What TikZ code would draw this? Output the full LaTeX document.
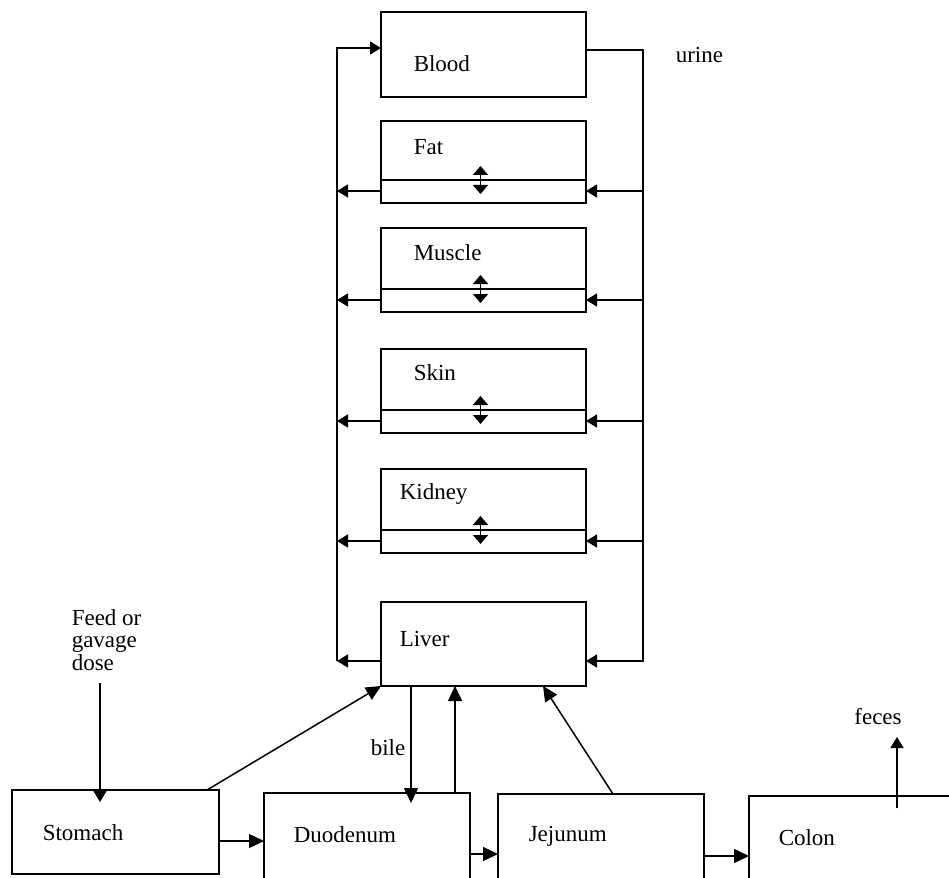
\documentclass[tikz,border=0pt]{standalone}
\usepackage{fontspec}
\setmainfont{Liberation Serif}
\usetikzlibrary{arrows.meta}
\begin{document}
\begin{tikzpicture}[x=1pt,y=-1pt,line width=1.5pt,
  box/.style={draw,rectangle,inner sep=0pt,outer sep=0pt,minimum width=205pt,minimum height=84pt},
  lbl/.style={font=\fontsize{23}{22.5}\selectfont,inner sep=0pt,anchor=west,align=left},
  tip/.style={-{Triangle[length=11pt,width=13pt]}},
  bigtip/.style={-{Triangle[length=15pt,width=14pt]}},
  dbl/.style={{Triangle[length=9pt,width=15pt]}-{Triangle[length=9pt,width=15pt]}}]
\clip (0,0) rectangle (949,877);
% tissue boxes
\node[box,minimum height=85pt] (blood) at (483.5,54.5) {};
\node[box,minimum height=82pt] (fat) at (483.5,162) {};
\node[box] (muscle) at (483.5,270) {};
\node[box] (skin) at (483.5,391) {};
\node[box] (kidney) at (483.5,511) {};
\node[box] (liver) at (483.5,644) {};
% labels
\node[lbl] (tblood) at (413,64) {Blood};
\node[lbl] (tfat) at (413,147) {Fat};
\node[lbl] (tmuscle) at (413,253) {Muscle};
\node[lbl] (tskin) at (413,373) {Skin};
\node[lbl] (tkidney) at (399,494) {Kidney};
\node[lbl] (tliver) at (399,639) {Liver};
\node[lbl] (turine) at (675,55) {urine};
% inner lines and double arrows
\foreach \t in {fat,muscle,skin,kidney}{
  \draw ([yshift=23pt]\t.south west) -- ([yshift=23pt]\t.south east);
  \draw[dbl] ([xshift=-3pt,yshift=37pt]\t.south) -- ([xshift=-3pt,yshift=9pt]\t.south);
}
% circulation
\coordinate (Ltop) at (337,48);
\coordinate (Lbot) at (337,661);
\coordinate (Rtop) at (643,50);
\coordinate (Rbot) at (643,662);
\draw[tip] (Lbot) -- (Ltop) -- ([yshift=6.5pt]blood.west);
\draw ([yshift=4.5pt]blood.east) -- (Rtop) -- (Rbot);
\foreach \t/\d in {fat/-29pt,muscle/-30pt,skin/-30pt,kidney/-30pt,liver/-17pt}{
  \coordinate (a\t) at ([yshift=\d]\t.west);
  \coordinate (b\t) at ([yshift=\d]\t.east);
  \draw[tip] (a\t) -- (a\t -| Ltop);
  \draw[tip] (b\t -| Rtop) -- (b\t);
}
% GI tract boxes
\node[box,minimum width=207pt,minimum height=84pt] (stomach) at (115.5,832) {};
\node[box,minimum width=206pt,minimum height=86pt] (duodenum) at (367,836) {};
\node[box,minimum width=206pt,minimum height=92pt] (jejunum) at (601,840) {};
\node[box,minimum width=220pt,minimum height=92pt] (colon) at (859,842) {};
\node[lbl] (tstomach) at (42,833) {Stomach};
\node[lbl] (tduodenum) at (293,835) {Duodenum};
\node[lbl] (tjejunum) at (528,836) {Jejunum};
\node[lbl] (tcolon) at (778,838) {Colon};
% feed
\node[lbl] (tfeed) at (71,640) {Feed or\\gavage\\dose};
\coordinate (f1) at (100,683);
\coordinate (f2) at ([xshift=-15.5pt,yshift=-12pt]stomach.north);
\draw[tip] (f1) -- (f1 |- f2);
% horizontal GI arrows
\coordinate (s1) at ([yshift=-9pt]stomach.east);
\draw[bigtip] (s1) -- (s1 -| duodenum.west);
\coordinate (d1) at ([yshift=-18pt]duodenum.east);
\draw[bigtip] (d1) -- (d1 -| jejunum.west);
\coordinate (j1) at ([yshift=-16pt]jejunum.east);
\draw[bigtip] (j1) -- (j1 -| colon.west);
% to / from liver
\draw[bigtip] ([xshift=-12pt]stomach.north east) -- (liver.south west);
\coordinate (b1) at ([xshift=30pt]liver.south west);
\coordinate (dtop) at ([yshift=-10pt]duodenum.north);
\draw[bigtip] (b1) -- (b1 |- dtop);
\node[lbl] (tbile) at (370,748) {bile};
\coordinate (u1) at ([xshift=-15pt]duodenum.north east);
\draw[bigtip] (u1) -- (u1 |- liver.south);
\draw[bigtip] ([xshift=12pt]jejunum.north) -- ([xshift=59.5pt]liver.south);
% feces
\coordinate (c1) at ([xshift=38pt,yshift=-12pt]colon.north);
\coordinate (c2) at (897,737);
\draw[tip] (c1) -- (c1 |- c2);
\node[lbl,anchor=center] (tfeces) at (878,717) {feces};
\end{tikzpicture}
\end{document}
